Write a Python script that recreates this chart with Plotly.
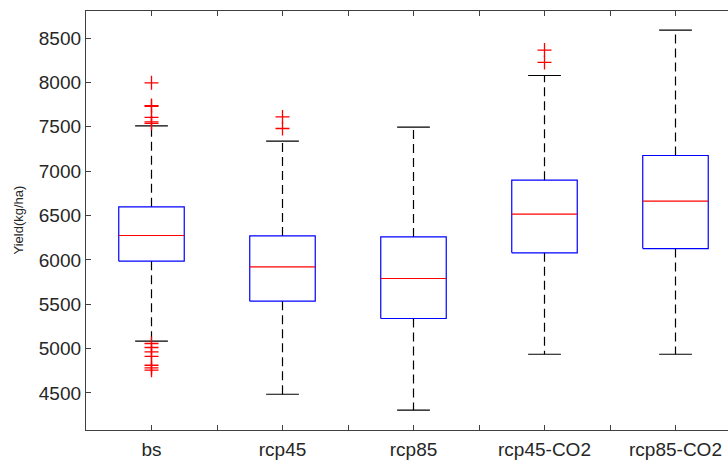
import plotly.graph_objects as go

categories = ["bs", "rcp45", "rcp85", "rcp45-CO2", "rcp85-CO2"]
lower_whisker = [5083, 4485, 4305, 4936, 4936]
q1 = [5985, 5534, 5339, 6079, 6128]
median = [6275, 5921, 5790, 6515, 6662]
q3 = [6598, 6270, 6259, 6899, 7177]
upper_whisker = [7511, 7338, 7496, 8079, 8590]
outliers = [
    [7996, 7740, 7730, 7606, 7556, 7540, 5057, 5012, 4962, 4912, 4812, 4782, 4756],
    [7612, 7481],
    [],
    [8365, 8226],
    [],
]
y_label = "Yield(kg/ha)"

BOX_HALF = 0.25
CAP_HALF = 0.125

pos = list(range(1, len(categories) + 1))

bx, by, mx, my, wx, wy, cx, cy, ox, oy = [], [], [], [], [], [], [], [], [], []
for p, lw, a, m, b, uw, outs in zip(pos, lower_whisker, q1, median, q3, upper_whisker, outliers):
    bx += [p - BOX_HALF, p + BOX_HALF, p + BOX_HALF, p - BOX_HALF, p - BOX_HALF, None]
    by += [a, a, b, b, a, None]
    mx += [p - BOX_HALF, p + BOX_HALF, None]
    my += [m, m, None]
    wx += [p, p, None, p, p, None]
    wy += [b, uw, None, a, lw, None]
    cx += [p - CAP_HALF, p + CAP_HALF, None, p - CAP_HALF, p + CAP_HALF, None]
    cy += [uw, uw, None, lw, lw, None]
    ox += [p] * len(outs)
    oy += outs

fig = go.Figure()
fig.add_trace(go.Scatter(x=wx, y=wy, mode="lines",
                         line=dict(color="black", width=1.2, dash="9px,5px"), hoverinfo="skip"))
fig.add_trace(go.Scatter(x=cx, y=cy, mode="lines",
                         line=dict(color="black", width=1.2), hoverinfo="skip"))
fig.add_trace(go.Scatter(x=bx, y=by, mode="lines",
                         line=dict(color="#0000FF", width=1.2), hoverinfo="skip"))
fig.add_trace(go.Scatter(x=mx, y=my, mode="lines",
                         line=dict(color="#FF0000", width=1.2), hoverinfo="skip"))
fig.add_trace(go.Scatter(x=ox, y=oy, mode="markers",
                         marker=dict(symbol="cross-thin", size=10,
                                     line=dict(color="#FF0000", width=1.3)),
                         hoverinfo="skip"))

tickvals = [1, 1.5, 2, 2.5, 3, 3.5, 4, 4.5, 5, 5.5]
ticktext = []
for v in tickvals:
    ticktext.append(categories[int(v) - 1] if float(v).is_integer() else "")

fig.update_layout(
    width=728, height=460,
    margin=dict(l=86, r=0, t=11, b=30),
    paper_bgcolor="white", plot_bgcolor="white",
    showlegend=False,
    font=dict(family="Liberation Sans, Arial, sans-serif", size=19, color="#262626"),
    xaxis=dict(range=[0.5, 0.5 + 642 / 131], tickvals=tickvals, ticktext=ticktext,
               ticks="inside", ticklen=5, tickwidth=1, tickcolor="#404040",
               showline=True, linecolor="#404040", linewidth=1.3, mirror="ticks",
               showgrid=False, zeroline=False, ticklabelstandoff=2),
    yaxis=dict(range=[4082, 8806], tickvals=[4500, 5000, 5500, 6000, 6500, 7000, 7500, 8000, 8500],
               ticks="inside", ticklen=5, tickwidth=1, tickcolor="#404040",
               showline=True, linecolor="#404040", linewidth=1.3,
               showgrid=False, zeroline=False),
    annotations=[dict(text=y_label, textangle=-90, xref="paper", yref="paper",
                      x=-(86 - 18) / 642, y=0.5, xanchor="center", yanchor="middle",
                      showarrow=False, font=dict(size=13, color="#262626"))],
)

fig.write_html("out.html")
